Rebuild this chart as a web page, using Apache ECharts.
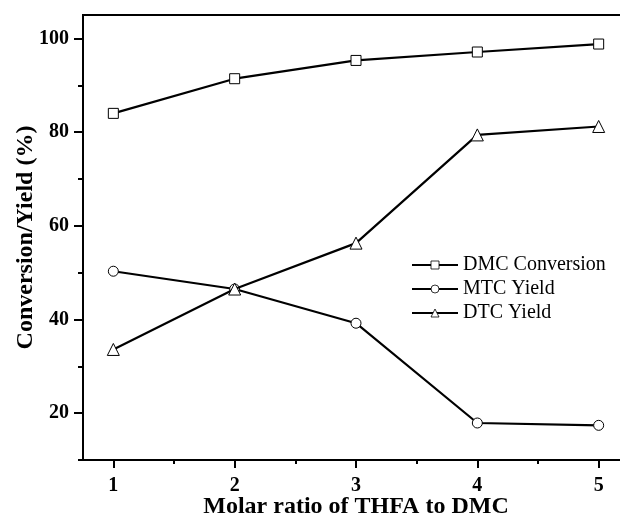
<!DOCTYPE html>
<html>
<head>
<meta charset="utf-8">
<script src="https://cdn.jsdelivr.net/npm/echarts@6/dist/echarts.min.js"></script>
<style>
  html, body { margin: 0; padding: 0; background: #fff; }
  #chart { width: 620px; height: 520px; }
</style>
</head>
<body>
<div id="chart"></div>
<script>
// molar ratio THFA : DMC
const ratios = [1, 2, 3, 4, 5]
const dmcConversion = [84.0, 91.4, 95.3, 97.1, 98.8]
const mtcYield = [50.3, 46.5, 39.2, 17.9, 17.4]
const dtcYield = [33.6, 46.5, 56.3, 79.4, 81.2]

const xMajorTicks = [1, 2, 3, 4, 5]
const xMinorTicks = [1.5, 2.5, 3.5, 4.5]
const yMajorTicks = [20, 40, 60, 80, 100]
const yMinorTicks = [10, 30, 50, 70, 90]

const serif = 'Liberation Serif'
const chart = echarts.init(document.getElementById('chart'))

const pairs = vals => ratios.map((r, i) => [r, vals[i]])

const lineSeries = (name, symbol, vals) => ({
  name,
  type: 'line',
  xAxisIndex: 0,
  yAxisIndex: 0,
  data: pairs(vals),
  symbol,
  symbolSize: symbol === 'triangle' ? 12 : 10,
  lineStyle: { color: '#000', width: 2.2 },
  itemStyle: { color: '#fff', borderColor: '#000', borderWidth: 1 },
  z: symbol === 'triangle' ? 3 : 2
})

const xBase = {
  type: 'value',
  min: 0.75,
  max: 5.25,
  position: 'bottom',
  splitLine: { show: false }
}
const yBase = {
  type: 'value',
  min: 10,
  max: 105,
  position: 'left',
  splitLine: { show: false }
}

chart.setOption({
  animation: false,
  backgroundColor: '#fff',
  grid: {
    left: 83,
    top: 15,
    right: -9,
    bottom: 60,
    outerBoundsMode: 'none',
    containLabel: false,
    show: true,
    borderColor: '#000',
    borderWidth: 2
  },
  legend: {
    orient: 'vertical',
    left: 406,
    top: 250,
    itemWidth: 46,
    itemHeight: 10,
    itemGap: 4,
    itemStyle: { borderWidth: 0.8 },
    textStyle: { fontFamily: serif, fontSize: 20, color: '#000' },
    data: ['DMC Conversion', 'MTC Yield', 'DTC Yield']
  },
  xAxis: [
    {
      ...xBase,
      name: 'Molar ratio of THFA to DMC',
      nameLocation: 'middle',
      nameGap: 35,
      nameMoveOverlap: false,
      nameTextStyle: { fontFamily: serif, fontSize: 24, fontWeight: 'bold', color: '#000' },
      axisLine: { lineStyle: { color: '#000', width: 2 } },
      axisTick: { customValues: xMajorTicks, length: 8, lineStyle: { color: '#000', width: 2 } },
      axisLabel: {
        customValues: xMajorTicks,
        margin: 16,
        fontFamily: serif,
        fontSize: 20,
        fontWeight: 'bold',
        color: '#000'
      }
    },
    {
      ...xBase,
      axisLine: { show: false },
      axisLabel: { show: false },
      axisTick: { customValues: xMinorTicks, length: 4, lineStyle: { color: '#000', width: 2 } }
    }
  ],
  yAxis: [
    {
      ...yBase,
      name: 'Conversion/Yield (%)',
      nameLocation: 'middle',
      nameGap: 45,
      nameMoveOverlap: false,
      nameTextStyle: { fontFamily: serif, fontSize: 24, fontWeight: 'bold', color: '#000' },
      axisLine: { lineStyle: { color: '#000', width: 2 } },
      axisTick: { customValues: yMajorTicks, length: 9, lineStyle: { color: '#000', width: 2 } },
      axisLabel: {
        customValues: yMajorTicks,
        margin: 14,
        fontFamily: serif,
        fontSize: 20,
        fontWeight: 'bold',
        color: '#000'
      }
    },
    {
      ...yBase,
      axisLine: { show: false },
      axisLabel: { show: false },
      axisTick: { customValues: yMinorTicks, length: 5, lineStyle: { color: '#000', width: 2 } }
    }
  ],
  series: [
    lineSeries('DMC Conversion', 'rect', dmcConversion),
    lineSeries('MTC Yield', 'circle', mtcYield),
    lineSeries('DTC Yield', 'triangle', dtcYield)
  ]
})
</script>
</body>
</html>
